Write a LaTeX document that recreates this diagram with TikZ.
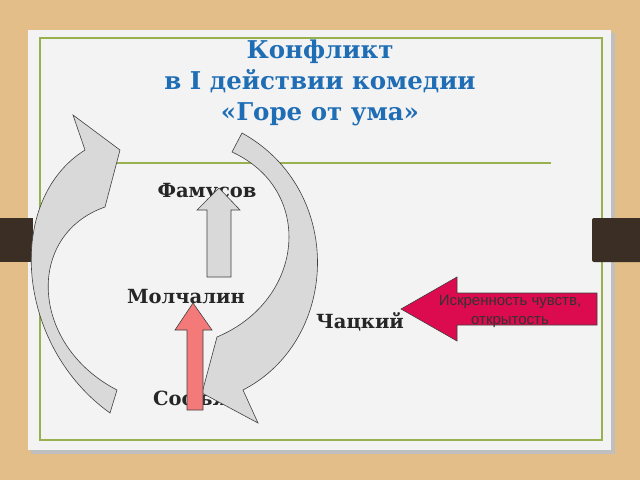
\documentclass[tikz,border=0pt]{standalone}
\usepackage{fontspec}
\setmainfont{DejaVu Serif}
\newfontfamily\lsans{Liberation Sans}
\definecolor{wood}{HTML}{E4BE88}
\definecolor{card}{HTML}{F3F3F3}
\definecolor{frameg}{HTML}{98B04E}
\definecolor{tabc}{HTML}{3A2E25}
\definecolor{titleb}{HTML}{1F6DB5}
\definecolor{grayf}{HTML}{D9D9D9}
\definecolor{crim}{HTML}{DC0A4E}
\definecolor{pinkf}{HTML}{F47A7A}
\tikzset{
  blockarrow/.style={draw=black!75, line width=0.6pt, line join=miter},
  lbl/.style={font=\fontsize{19.5}{22}\selectfont\bfseries, text=black!85, inner sep=0pt},
}
\begin{document}
\begin{tikzpicture}[x=1pt,y=-1pt]
\useasboundingbox (0,0) rectangle (640,480);
\fill[wood] (0,0) rectangle (640,480);
\fill[black!25] (31,33) rectangle (615,454);
\fill[card] (28,30) rectangle (611,450);
\draw[frameg, line width=1.3pt] (40,38) rectangle (602,440);
\fill[tabc] (0,218) rectangle (33,262);
\fill[tabc, rounded corners=2pt] (592,218) rectangle (645,262);
\draw[frameg, line width=1.3pt] (117,163) -- (551,163);
\node[font=\fontsize{24.5}{31}\selectfont\bfseries, text=titleb, align=center] (title) at (320,83)
  {Конфликт\\в I действии комедии\\«Горе от ума»};
\node[lbl] (fam) at (207,193) {Фамусов};
\node[lbl] (mol) at (186,297) {Молчалин};
\node[lbl] (cha) at (360,322) {Чацкий};
\node[lbl, anchor=west] (sof) at (153,400) {Софья};
% left curved arrow
\draw[blockarrow, fill=grayf] (110,413) .. controls (15,345) and (5,200) .. (85,150)
  -- (73,115) -- (120,150) -- (105,207)
  .. controls (25,235) and (30,345) .. (117,390) -- cycle;
% right curved arrow
\draw[blockarrow, fill=grayf] (232,152) -- (242,133) .. controls (345,190) and (340,340) .. (243,390)
  -- (258,423) -- (202,393) -- (217,337)
  .. controls (305,300) and (315,190) .. (232,152) -- cycle;
% gray up arrow
\draw[blockarrow, fill=grayf] (207,277) -- (207,210) -- (197,210) -- (219,188) -- (240,210) -- (231,210) -- (231,277) -- cycle;
% pink up arrow
\draw[blockarrow, fill=pinkf] (187,410) -- (187,330) -- (175,330) -- (193,303) -- (212,330) -- (203,330) -- (203,410) -- cycle;
% crimson arrow
\draw[blockarrow, fill=crim] (597,293) -- (457,293) -- (457,277) -- (401,309) -- (457,341) -- (457,325) -- (597,325) -- cycle;
\node[font=\lsans\fontsize{15}{19}\selectfont, text=black!80, align=center, inner sep=0pt] (isk) at (510,311)
  {Искренность чувств,\\открытость};
\end{tikzpicture}
\end{document}
